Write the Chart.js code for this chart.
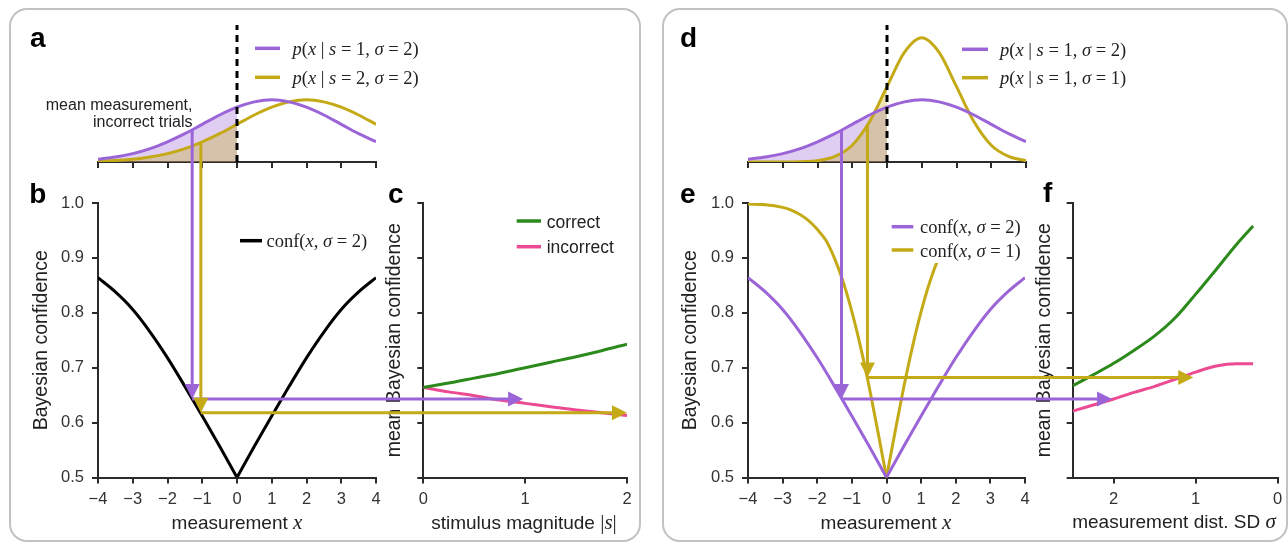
<!DOCTYPE html>
<html>
<head>
<meta charset="utf-8">
<script src="https://cdn.jsdelivr.net/npm/chart.js@4.4.1/dist/chart.umd.min.js"></script>
<style>
  html, body { margin: 0; padding: 0; background: #fff; }
  #wrap { position: relative; width: 1288px; height: 545px; overflow: hidden; }
  canvas { position: absolute; }
  .box { position: absolute; box-sizing: border-box; border: 2px solid #c2c2c2; border-radius: 18px; }
</style>
</head>
<body>
<div id="wrap">
  <div class="box" style="left:9px;top:8px;width:632px;height:534px"></div>
  <div class="box" style="left:662px;top:8px;width:626px;height:534px"></div>
  <canvas id="cA"></canvas>
  <canvas id="cB"></canvas>
  <canvas id="cC"></canvas>
  <canvas id="cD"></canvas>
  <canvas id="cE"></canvas>
  <canvas id="cF"></canvas>
  <canvas id="overlay" width="1288" height="545" style="left:0;top:0"></canvas>
</div>
<script>
// ---- values ----
const xGrid = [-4, -3.5, -3, -2.5, -2, -1.5, -1, -0.5, 0, 0.5, 1, 1.5, 2, 2.5, 3, 3.5, 4];
const xTicks = [-4, -3, -2, -1, 0, 1, 2, 3, 4];
const confTicks = [0.5, 0.6, 0.7, 0.8, 0.9, 1.0];

// p(x | s, sigma) on xGrid
const densS1Sig2 = [0.009, 0.016, 0.027, 0.043, 0.065, 0.091, 0.121, 0.151, 0.176, 0.193, 0.200, 0.193, 0.176, 0.151, 0.121, 0.091, 0.065];
const densS2Sig2 = [0.002, 0.005, 0.009, 0.016, 0.027, 0.043, 0.065, 0.091, 0.121, 0.151, 0.176, 0.193, 0.200, 0.193, 0.176, 0.151, 0.121];
const densS1Sig1 = [0.000, 0.000, 0.000, 0.001, 0.004, 0.018, 0.054, 0.130, 0.242, 0.352, 0.399, 0.352, 0.242, 0.130, 0.054, 0.018, 0.004];

// conf(x, sigma = 2) on xGrid
const confSig2 = [0.864, 0.838, 0.806, 0.765, 0.718, 0.666, 0.612, 0.557, 0.500, 0.557, 0.612, 0.666, 0.718, 0.765, 0.806, 0.838, 0.864];
// conf(x, sigma = 1)
const confSig1X = [-4, -3.5, -3, -2.75, -2.5, -2.25, -2, -1.75, -1.5, -1.25, -1, -0.75, -0.5, -0.25, 0,
                   0.25, 0.5, 0.75, 1, 1.25, 1.5, 1.75, 2, 2.25, 2.5, 2.75, 3, 3.5, 4];
const confSig1 = [0.998, 0.997, 0.992, 0.987, 0.979, 0.968, 0.952, 0.932, 0.899, 0.856, 0.802, 0.738, 0.665, 0.584, 0.500,
                  0.584, 0.665, 0.738, 0.802, 0.856, 0.899, 0.932, 0.952, 0.968, 0.979, 0.987, 0.992, 0.997, 0.998];

// panel c: mean confidence vs stimulus magnitude
const stimMag = [0, 0.25, 0.5, 0.75, 1, 1.25, 1.5, 1.75, 2];
const stimTicks = [0, 1, 2];
const cCorrect = [0.664, 0.672, 0.681, 0.690, 0.700, 0.710, 0.720, 0.731, 0.743];
const cIncorrect = [0.664, 0.656, 0.649, 0.641, 0.635, 0.629, 0.623, 0.618, 0.613];

// panel f: mean confidence vs measurement SD
const sigmaVals = [2.5, 2.25, 2.0, 1.75, 1.5, 1.25, 1.0, 0.75, 0.5, 0.3];
const sigmaTicks = [0, 1, 2];
const fCorrect = [0.667, 0.687, 0.708, 0.732, 0.758, 0.791, 0.834, 0.879, 0.925, 0.958];
const fIncorrect = [0.621, 0.632, 0.643, 0.655, 0.666, 0.679, 0.692, 0.703, 0.707, 0.707];

// arrows: measurement, density at it, confidence, end on right-hand axis
const arrowsLeft = [
  { x: -1.29, dens: 0.104, conf: 0.643, to: 0.98, color: 'purple' },
  { x: -1.04, dens: 0.063, conf: 0.618, to: 2.0, color: 'gold' }
];
const arrowsRight = [
  { x: -1.30, dens: 0.103, conf: 0.643, to: 2.02, color: 'purple' },
  { x: -0.55, dens: 0.120, conf: 0.682, to: 1.03, color: 'gold' }
];

// ---- style ----
const COL = { purple: '#9b65d8', gold: '#c4aa17', green: '#2b8a1b', pink: '#ec4a92', black: '#000' };
const AX = '#2b2b2b';
const SANS = '"Liberation Sans", Arial, sans-serif';
const SERIF = '"Liberation Serif", "Times New Roman", serif';
Chart.defaults.font.family = SANS;
Chart.defaults.font.size = 16.5;

const pts = (xs, ys, keep) => xs.map((x, i) => ({ x: x, y: ys[i] })).filter(p => !keep || keep(p.x));
const minus = v => (v < 0 ? '\u2212' + Math.abs(v) : String(v));

function place(id, left, top, w, h) {
  const c = document.getElementById(id);
  c.width = w; c.height = h;
  c.style.left = left + 'px'; c.style.top = top + 'px';
  return c;
}

function axis(extra) {
  return Object.assign({
    type: 'linear',
    grid: { display: true, drawOnChartArea: false, drawTicks: true, tickLength: 6, tickWidth: 2, tickColor: AX, color: AX, lineWidth: 2 },
    border: { display: true, color: AX, width: 2 }
  }, extra);
}

function line(data, color, extra) {
  return Object.assign({ data: data, borderColor: color, borderWidth: 3, pointRadius: 0, fill: false, cubicInterpolationMode: 'monotone' }, extra || {});
}

function baseOptions(padding, scales) {
  return {
    responsive: false, animation: false, events: [],
    layout: { autoPadding: false, padding: padding },
    plugins: { legend: { display: false }, tooltip: { enabled: false } },
    scales: scales
  };
}

// top density panels: canvas box + chart area in page pixels
function densityChart(id, left, curves) {
  const c = place(id, left, 0, 400, 180);
  const areaL = 98, areaR = 376, areaT = 25, areaB = 162;
  return new Chart(c, {
    type: 'line',
    data: { datasets: curves },
    options: baseOptions({ left: areaL, top: areaT, right: 400 - areaR, bottom: 0 }, {
      x: axis({ min: -4, max: 4, afterFit: s => { s.height = 180 - areaB; },
        afterBuildTicks: s => { s.ticks = xTicks.map(v => ({ value: v })); },
        ticks: { display: false } }),
      y: { type: 'linear', display: false, min: 0, max: 0.44 }
    })
  });
}

function confChart(id, left, width, area, xs, datasets, yTitle, titlePad, yLabels) {
  const c = place(id, left, 180, width, 365);
  return new Chart(c, {
    type: 'line',
    data: { datasets: datasets },
    options: baseOptions({ left: 0, top: area.t - 180, right: left + width - area.r, bottom: 0 }, {
      x: axis({ min: xs.min, max: xs.max, reverse: !!xs.reverse,
        afterFit: s => { s.height = 545 - area.b; },
        afterBuildTicks: s => { s.ticks = xs.ticks.map(v => ({ value: v })); },
        ticks: { color: '#333', padding: 6, maxRotation: 0, autoSkip: false, callback: v => minus(v) } }),
      y: axis({ min: 0.5, max: 1.0,
        afterFit: s => { s.width = area.l - left; },
        afterBuildTicks: s => { s.ticks = confTicks.map(v => ({ value: v })); },
        ticks: { display: yLabels, color: '#333', padding: 8, callback: v => v.toFixed(1) },
        title: { display: true, text: yTitle, color: '#222', font: { size: 19.5 }, padding: { top: titlePad, bottom: 0 } } })
    })
  });
}

const dashed = () => line([{ x: 0, y: 0 }, { x: 0, y: 0.44 }], '#000', { borderDash: [7, 5], cubicInterpolationMode: 'default' });
const shade = (ys, rgba) => line(pts(xGrid, ys, x => x <= 0), 'rgba(0,0,0,0)', { borderWidth: 0, fill: 'origin', backgroundColor: rgba });
const FILL_P = 'rgba(155,101,216,0.32)', FILL_G = 'rgba(196,170,23,0.32)';

const chartA = densityChart('cA', 0, [
  dashed(),
  line(pts(xGrid, densS1Sig2), COL.purple),
  line(pts(xGrid, densS2Sig2), COL.gold),
  shade(densS2Sig2, FILL_G),
  shade(densS1Sig2, FILL_P)
]);

const chartD = densityChart('cD', 650, [
  dashed(),
  line(pts(xGrid, densS1Sig2), COL.purple),
  line(pts(xGrid, densS1Sig1), COL.gold),
  shade(densS1Sig1, FILL_G),
  shade(densS1Sig2, FILL_P)
]);

const xMeas = { min: -4, max: 4, ticks: xTicks };

const chartB = confChart('cB', 0, 400, { l: 98, r: 376, t: 203, b: 477.5 }, xMeas, [
  line(pts(xGrid, confSig2, x => x <= 0), COL.black),
  line(pts(xGrid, confSig2, x => x >= 0), COL.black)
], 'Bayesian confidence', 30.3, true);

const chartC = confChart('cC', 380, 260, { l: 423.3, r: 627, t: 203, b: 477.5 }, { min: 0, max: 2, ticks: stimTicks }, [
  line(pts(stimMag, cCorrect), COL.green),
  line(pts(stimMag, cIncorrect), COL.pink)
], 'mean Bayesian confidence', 3.3, false);

const chartE = confChart('cE', 650, 400, { l: 748, r: 1025, t: 203, b: 477.5 }, xMeas, [
  line(pts(xGrid, confSig2, x => x <= 0), COL.purple),
  line(pts(xGrid, confSig2, x => x >= 0), COL.purple),
  line(pts(confSig1X, confSig1, x => x <= 0), COL.gold),
  line(pts(confSig1X, confSig1, x => x >= 0), COL.gold)
], 'Bayesian confidence', 29.3, true);

const chartF = confChart('cF', 1030, 258, { l: 1072.7, r: 1277.7, t: 203, b: 477.5 }, { min: 0, max: 2.5, reverse: true, ticks: sigmaTicks }, [
  line(pts(sigmaVals, fCorrect), COL.green),
  line(pts(sigmaVals, fIncorrect), COL.pink)
], 'mean Bayesian confidence', 3.3, false);

// ---- overlay: arrows, legends, math labels ----
const ctx = document.getElementById('overlay').getContext('2d');
const PX = (ch, v) => ch.canvas.offsetLeft + ch.scales.x.getPixelForValue(v);
const PY = (ch, v) => ch.canvas.offsetTop + ch.scales.y.getPixelForValue(v);

function arrow(x1, y1, x2, y2, color) {
  const L = 15, W = 7.5;
  const len = Math.hypot(x2 - x1, y2 - y1), ux = (x2 - x1) / len, uy = (y2 - y1) / len;
  ctx.strokeStyle = color; ctx.fillStyle = color; ctx.lineWidth = 3; ctx.lineCap = 'butt';
  ctx.beginPath(); ctx.moveTo(x1, y1); ctx.lineTo(x2 - ux * L * 0.6, y2 - uy * L * 0.6); ctx.stroke();
  ctx.beginPath();
  ctx.moveTo(x2, y2);
  ctx.lineTo(x2 - ux * L - uy * W, y2 - uy * L + ux * W);
  ctx.lineTo(x2 - ux * L + uy * W, y2 - uy * L - ux * W);
  ctx.closePath(); ctx.fill();
}

function drawArrows(list, top, mid, right) {
  list.forEach(a => {
    const x = PX(mid, a.x), yc = PY(mid, a.conf);
    arrow(x, PY(top, a.dens), x, yc, COL[a.color]);
    arrow(x, yc, PX(right, a.to), yc, COL[a.color]);
  });
}

function fontOf(st, size) {
  if (st === 'i') return 'italic ' + size + 'px ' + SERIF;
  if (st === 'r') return size + 'px ' + SERIF;
  if (st === 'b') return 'bold ' + size + 'px ' + SANS;
  return size + 'px ' + SANS;
}

// parts: [text, style, size]
function runs(parts, x, y, align, color) {
  ctx.textBaseline = 'alphabetic'; ctx.textAlign = 'left'; ctx.fillStyle = color || '#222';
  const widths = parts.map(p => { ctx.font = fontOf(p[1], p[2]); return ctx.measureText(p[0]).width; });
  const total = widths.reduce((s, w) => s + w, 0);
  let cx = align === 'center' ? x - total / 2 : align === 'right' ? x - total : x;
  parts.forEach((p, i) => { ctx.font = fontOf(p[1], p[2]); ctx.fillText(p[0], cx, y); cx += widths[i]; });
}

function legendLine(x0, x1, y, color) {
  ctx.strokeStyle = color; ctx.lineWidth = 3.5; ctx.lineCap = 'butt';
  ctx.beginPath(); ctx.moveTo(x0, y); ctx.lineTo(x1, y); ctx.stroke();
}

const M = 18.5;
const pLabel = (s, sig) => [['p', 'i', M], ['(', 'r', M], ['x', 'i', M], [' | ', 'r', M], ['s', 'i', M], [' = ' + s + ', ', 'r', M], ['\u03c3', 'i', M], [' = ' + sig + ')', 'r', M]];
const confLabel = sig => [['conf(', 'r', M], ['x', 'i', M], [', ', 'r', M], ['\u03c3', 'i', M], [' = ' + sig + ')', 'r', M]];

drawArrows(arrowsLeft, chartA, chartB, chartC);
drawArrows(arrowsRight, chartD, chartE, chartF);

// panel a legend + note
legendLine(255, 280, 48.3, COL.purple); runs(pLabel(1, 2), 292.5, 55, 'left');
legendLine(255, 280, 77.3, COL.gold); runs(pLabel(2, 2), 292.5, 84, 'left');
runs([['mean measurement,', 's', 16]], 192.5, 110, 'right');
runs([['incorrect trials', 's', 16]], 192.5, 126.7, 'right');

// panel d legend
legendLine(962, 988, 49.3, COL.purple); runs(pLabel(1, 2), 1000, 56, 'left');
legendLine(962, 988, 77.7, COL.gold); runs(pLabel(1, 1), 1000, 84.4, 'left');

// panel b legend
legendLine(240, 262, 240.7, COL.black); runs(confLabel(2), 266.5, 247.2, 'left');

// panel c legend
legendLine(516.7, 541, 221, COL.green); runs([['correct', 's', 17.5]], 546.7, 227.5, 'left');
legendLine(516.7, 541, 246.7, COL.pink); runs([['incorrect', 's', 17.5]], 546.7, 253.2, 'left');

// panel e legend (white frame hides the curve behind it)
ctx.fillStyle = '#fff'; ctx.fillRect(889, 200, 141, 63);
legendLine(891.7, 913.3, 226.7, COL.purple); runs(confLabel(2), 920, 233.2, 'left');
legendLine(891.7, 913.3, 250, COL.gold); runs(confLabel(1), 920, 256.5, 'left');

// x axis titles
const T = 19, TM = 21;
runs([['measurement ', 's', T], ['x', 'i', TM]], 237, 529, 'center');
runs([['stimulus magnitude ', 's', T], ['|', 'r', TM], ['s', 'i', TM], ['|', 'r', TM]], 524, 529, 'center');
runs([['measurement ', 's', T], ['x', 'i', TM]], 886, 529, 'center');
runs([['measurement dist. SD ', 's', T], ['\u03c3', 'i', TM]], 1174, 528, 'center');

// panel letters
[['a', 30, 46.7], ['b', 29.3, 203.3], ['c', 388, 203.3], ['d', 680, 46.7], ['e', 680, 202.7], ['f', 1043, 201.7]]
  .forEach(l => runs([[l[0], 'b', 28]], l[1], l[2], 'left', '#000'));
</script>
</body>
</html>
